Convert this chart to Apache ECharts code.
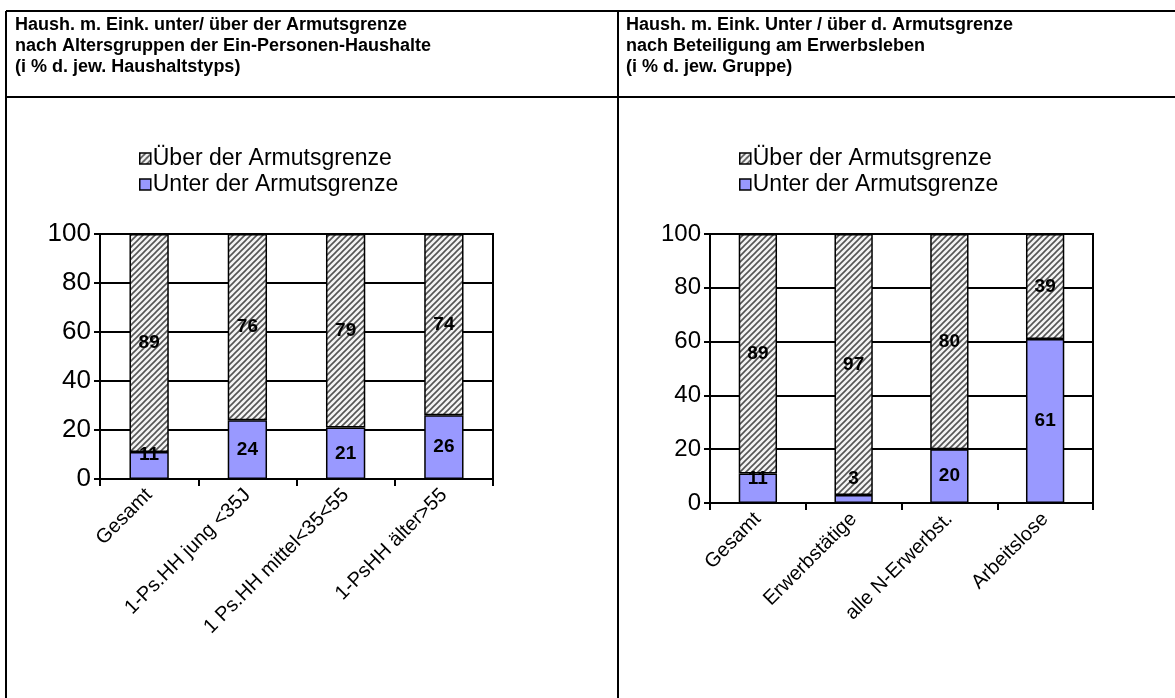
<!DOCTYPE html>
<html>
<head>
<meta charset="utf-8">
<script src="https://cdn.jsdelivr.net/npm/echarts@6/dist/echarts.min.js"></script>
<style>
  html, body { margin: 0; padding: 0; background: #fff; }
  #chart { width: 1175px; height: 698px; }
</style>
</head>
<body>
<div id="chart"></div>
<script>
// Daten
const seriesNames = ['Unter der Armutsgrenze', 'Über der Armutsgrenze']
const catsLeft = ['Gesamt', '1-Ps.HH jung <35J', '1 Ps.HH mittel<35<55', '1-PsHH älter>55']
const unterLeft = [11, 24, 21, 26]
const ueberLeft = [89, 76, 79, 74]
const catsRight = ['Gesamt', 'Erwerbstätige', 'alle N-Erwerbst.', 'Arbeitslose']
const unterRight = [11, 3, 20, 61]
const ueberRight = [89, 97, 80, 39]
const titleLeft = 'Haush. m. Eink. unter/ über der Armutsgrenze\nnach Altersgruppen der Ein-Personen-Haushalte\n(i % d. jew. Haushaltstyps)'
const titleRight = 'Haush. m. Eink. Unter / über d. Armutsgrenze\nnach Beteiligung am Erwerbsleben\n(i % d. jew. Gruppe)'

const FONT = '"Liberation Sans", Arial, sans-serif'

// Schraffur fuer "ueber der Armutsgrenze"
function hatch() {
  const c = document.createElement('canvas')
  c.width = 6; c.height = 6
  const ctx = c.getContext('2d')
  ctx.fillStyle = '#f4f4f4'
  ctx.fillRect(0, 0, 6, 6)
  ctx.strokeStyle = '#555'
  ctx.lineWidth = 1.6
  ctx.beginPath()
  ctx.moveTo(-1, 7); ctx.lineTo(7, -1)
  ctx.moveTo(-4, 4); ctx.lineTo(4, -4)
  ctx.moveTo(2, 10); ctx.lineTo(10, 2)
  ctx.stroke()
  return { image: c, repeat: 'repeat' }
}
const hatchFill = hatch()

const grids = [
  { left: 100, top: 234, width: 393, height: 245 },
  { left: 710, top: 234, width: 383, height: 269 }
]

// kleine Segmente: Label nicht zu nah an der Achse
function labelData(values, gridH) {
  return values.map(v => {
    if (v / 100 * gridH / 2 < 25) {
      return { value: v, label: { position: 'insideBottom', distance: 15 } }
    }
    return v
  })
}

function xAxis(idx, cats) {
  return {
    type: 'category', gridIndex: idx, data: cats,
    axisLine: { lineStyle: { color: '#000', width: 2 } },
    axisTick: { show: true, length: 7, lineStyle: { color: '#000', width: 2 } },
    axisLabel: { rotate: 45, margin: 13, color: '#000', fontSize: 20, fontFamily: FONT }
  }
}
function yAxis(idx, size) {
  return {
    type: 'value', gridIndex: idx, min: 0, max: 100, interval: 20,
    axisLine: { show: true, lineStyle: { color: '#000', width: 2 } },
    axisTick: { show: true, length: 6, lineStyle: { color: '#000', width: 2 } },
    axisLabel: { margin: 9, color: '#000', fontSize: size, fontFamily: FONT },
    splitLine: { lineStyle: { color: '#000', width: 2 } }
  }
}
function bars(idx, unter, ueber) {
  const lbl = { show: true, position: 'inside', color: '#000', fontSize: 19, fontWeight: 'bold', fontFamily: FONT }
  return [
    {
      name: seriesNames[0], type: 'bar', stack: 's' + idx, xAxisIndex: idx, yAxisIndex: idx,
      barWidth: '40%', data: labelData(unter, grids[idx].height),
      itemStyle: { color: '#9999ff', borderColor: '#000', borderWidth: 1.5 }, label: lbl
    },
    {
      name: seriesNames[1], type: 'bar', stack: 's' + idx, xAxisIndex: idx, yAxisIndex: idx,
      barWidth: '40%', data: ueber,
      itemStyle: { color: hatchFill, borderColor: '#000', borderWidth: 1.5 }, label: lbl
    }
  ]
}
function legend(left) {
  return {
    left: left, top: 142, orient: 'vertical', selectedMode: false,
    data: [seriesNames[1], seriesNames[0]],
    icon: 'rect', itemWidth: 11, itemHeight: 11, itemGap: 3,
    itemStyle: { borderColor: '#000', borderWidth: 1.5 },
    textStyle: { color: '#000', fontSize: 23, lineHeight: 22, fontFamily: FONT, padding: [0, 0, 0, -3] }
  }
}
function titleOpt(left, text) {
  return {
    left: left, top: 10, text: text,
    textStyle: { color: '#000', fontSize: 18, fontWeight: 'bold', fontFamily: FONT, lineHeight: 21 }
  }
}

const chart = echarts.init(document.getElementById('chart'), null, { renderer: 'canvas' })
const lineStyle = { stroke: '#000', lineWidth: 2 }
chart.setOption({
  animation: false,
  backgroundColor: '#fff',
  title: [titleOpt(10, titleLeft), titleOpt(621, titleRight)],
  legend: [legend(134), legend(734)],
  grid: grids.map(g => Object.assign({ show: true, borderColor: '#000', borderWidth: 2, backgroundColor: 'transparent' }, g)),
  xAxis: [xAxis(0, catsLeft), xAxis(1, catsRight)],
  yAxis: [yAxis(0, 26), yAxis(1, 24)],
  series: bars(0, unterLeft, ueberLeft).concat(bars(1, unterRight, ueberRight)),
  graphic: [
    { type: 'line', shape: { x1: 6, y1: 11, x2: 1175, y2: 11 }, style: lineStyle },
    { type: 'line', shape: { x1: 6, y1: 97, x2: 1175, y2: 97 }, style: lineStyle },
    { type: 'line', shape: { x1: 6, y1: 11, x2: 6, y2: 698 }, style: lineStyle },
    { type: 'line', shape: { x1: 618, y1: 11, x2: 618, y2: 698 }, style: lineStyle }
  ]
})
</script>
</body>
</html>
